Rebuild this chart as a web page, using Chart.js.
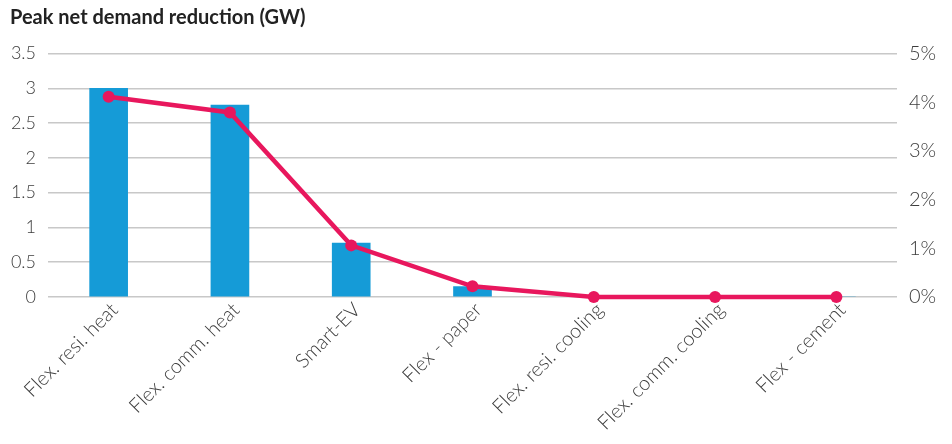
<!DOCTYPE html>
<html>
<head>
<meta charset="utf-8">
<script src="https://cdn.jsdelivr.net/npm/chart.js@4"></script>
<style>
  html, body { margin: 0; padding: 0; background: #fff; }
  #wrap { width: 952px; height: 444px; }
</style>
</head>
<body>
<div id="wrap"><canvas id="chart" width="952" height="444"></canvas></div>
<script>
const categories = [
  'Flex. resi. heat',
  'Flex. comm. heat',
  'Smart-EV',
  'Flex - paper',
  'Flex. resi. cooling',
  'Flex. comm. cooling',
  'Flex - cement',
];
// peak net demand reduction, GW (left axis)
const peakGW = [3.0, 2.76, 0.775, 0.15, 0, 0, 0];
// same reduction as share of peak demand, % (right axis)
const peakShare = [4.11, 3.79, 1.06, 0.22, 0, 0, 0];

const gwTicks = { min: 0, max: 3.5, step: 0.5 };
const pctTicks = { min: 0, max: 5, step: 1 };

const BLUE = '#159bd7';
const PINK = '#e8175d';
const FONT = 'Lato';
const TICK_COLOR = '#3c3c3c';

const ctx = document.getElementById('chart');

new Chart(ctx, {
  type: 'bar',
  data: {
    labels: categories,
    datasets: [
      {
        type: 'line',
        label: 'Share of peak',
        data: peakShare,
        yAxisID: 'y1',
        borderColor: PINK,
        backgroundColor: PINK,
        borderWidth: 4.5,
        pointRadius: 6,
        pointBackgroundColor: PINK,
        pointBorderWidth: 0,
        tension: 0,
        clip: false,
        order: 0,
      },
      {
        type: 'bar',
        label: 'Peak net demand reduction',
        data: peakGW,
        yAxisID: 'y',
        backgroundColor: BLUE,
        barThickness: 38,
        order: 1,
      },
    ],
  },
  options: {
    responsive: false,
    animation: false,
    layout: {
      padding: { left: 10, right: 0, top: 0, bottom: 0 },
    },
    plugins: {
      legend: { display: false },
      tooltip: { enabled: false },
      title: {
        display: true,
        text: 'Peak net demand reduction (GW)',
        align: 'start',
        color: '#222',
        font: { family: FONT, size: 20, weight: 'bold' },
        padding: { top: 6, bottom: 23.5 },
      },
    },
    scales: {
      x: {
        grid: { display: false, drawTicks: false },
        border: { display: false },
        afterFit: (scale) => { scale.height = 147; },
        ticks: {
          color: TICK_COLOR,
          minRotation: 45,
          maxRotation: 45,
          padding: 1,
          labelOffset: 6,
          font: { family: FONT, size: 20, weight: 300 },
        },
      },
      y: {
        position: 'left',
        min: gwTicks.min,
        max: gwTicks.max,
        grid: { color: '#c8c8c8', lineWidth: 1.5, drawTicks: false },
        border: { display: false },
        afterFit: (scale) => { scale.width = 38; },
        ticks: {
          stepSize: gwTicks.step,
          color: TICK_COLOR,
          padding: 12,
          font: { family: FONT, size: 18, weight: 300 },
          callback: (v) => String(v),
        },
      },
      y1: {
        position: 'right',
        min: pctTicks.min,
        max: pctTicks.max,
        grid: { display: false, drawTicks: false },
        border: { display: false },
        afterFit: (scale) => { scale.width = 55; },
        ticks: {
          stepSize: pctTicks.step,
          color: TICK_COLOR,
          padding: 12,
          font: { family: FONT, size: 20, weight: 300 },
          callback: (v) => v + '%',
        },
      },
    },
  },
});
</script>
</body>
</html>
